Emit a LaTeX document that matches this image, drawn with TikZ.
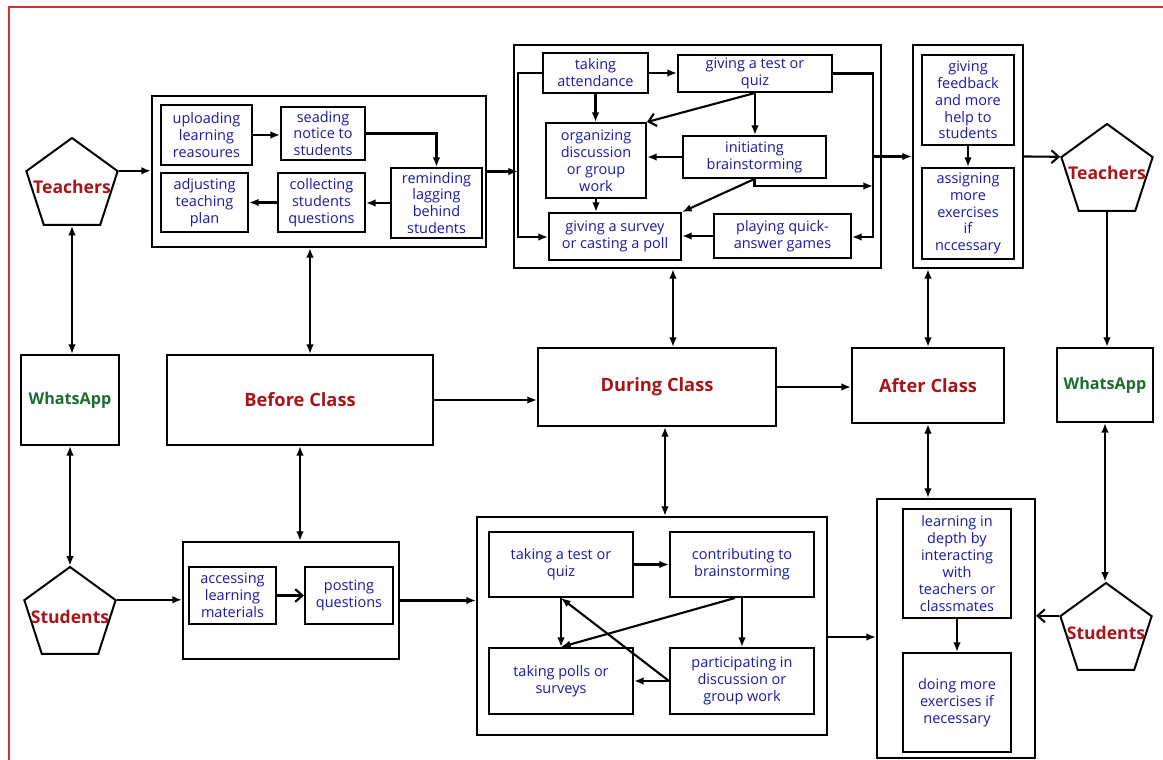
\documentclass[tikz,border=0pt]{standalone}
\usepackage{fontspec}
\setmainfont{Open Sans}
\usetikzlibrary{shapes.geometric,arrows.meta}
\definecolor{dred}{RGB}{170,20,25}
\definecolor{blu}{RGB}{25,25,165}
\definecolor{grn}{RGB}{25,110,45}
\definecolor{bord}{RGB}{200,55,55}
\begin{document}
\begin{tikzpicture}[x=0.025cm,y=-0.025cm,
        grp/.style={draw,line width=1.5pt,inner sep=0pt},
        act/.style={draw,line width=1.4pt,text=blu,align=center,inner sep=0.5pt,font=\fontsize{10.3}{12}\selectfont},
        phase/.style={draw,line width=1.4pt,text=dred,font=\fontsize{13}{15}\selectfont\bfseries},
        app/.style={draw,line width=1.4pt,text=grn,font=\fontsize{11.5}{13}\selectfont\bfseries},
        role/.style={regular polygon,regular polygon sides=5,draw,line width=1.4pt,minimum size=2.4cm,
                label={[text=dred,font=\fontsize{12.5}{14}\selectfont\bfseries,yshift=-1pt]center:#1}},
        arr/.style={line width=1.5pt,-{Latex[length=2.4mm,width=1.9mm]}},
        darr/.style={line width=1.5pt,{Latex[length=2.4mm,width=1.9mm]}-{Latex[length=2.4mm,width=1.9mm]}},
        oarr/.style={line width=1.5pt,-{Straight Barb[length=1.8mm,width=3.2mm]}}]
        \useasboundingbox (0,0) rectangle (1163,760);
        \draw[bord,line width=1.5pt] (9,760) -- (9,7) -- (1163,7);

        % roles and channels
        \node[role=Teachers] (T1) at (72,186) {};
        \node[role=Students] (S1) at (70,615) {};
        \node[role=Teachers] (T2) at (1107,172) {};
        \node[role=Students] (S2) at (1106,631) {};
        \node[app,minimum width=2.45cm,minimum height=2.25cm] (wl) at (70,400) {WhatsApp};
        \node[app,minimum width=2.4cm,minimum height=1.85cm] (wr) at (1105,385) {WhatsApp};

        % phases
        \node[phase,minimum width=6.65cm,minimum height=2.25cm] (bcl) at (300,400) {Before Class};
        \node[phase,minimum width=5.95cm,minimum height=1.95cm] (dcl) at (657,387) {During Class};
        \node[phase,minimum width=3.8cm,minimum height=1.875cm] (acl) at (928,385.5) {After Class};

        % before class, teachers
        \node[grp,minimum width=8.35cm,minimum height=3.775cm] (bgrp) at (319,171.5) {};
        \node[act,minimum width=2.275cm,minimum height=1.5cm] (upl) at (206.5,135) {uploading\\learning\\reasoures};
        \node[act,minimum width=2.1cm,minimum height=1.325cm] (sea) at (323,133.5) {seading\\notice to\\students};
        \node[act,minimum width=2.275cm,minimum height=1.75cm] (rem) at (436.5,203) {reminding\\lagging\\behind\\students};
        \node[act,minimum width=2.175cm,minimum height=1.475cm] (col) at (321.5,202.5) {collecting\\students\\questions};
        \node[act,minimum width=2.175cm,minimum height=1.475cm] (adj) at (204.5,202.5) {adjusting\\teaching\\plan};

        % before class, students
        \node[grp,minimum width=5.4cm,minimum height=2.925cm] (agrp) at (291,600.5) {};
        \node[act,minimum width=2.175cm,minimum height=1.425cm] (acc) at (232.5,595.5) {accessing\\learning\\materials};
        \node[act,minimum width=2.2cm,minimum height=1.425cm] (pos) at (349,595.5) {posting\\questions};

        % during class, teachers
        \node[grp,minimum width=9.175cm,minimum height=5.575cm] (dgrp) at (697.5,156.5) {};
        \node[act,minimum width=2.625cm,minimum height=1cm] (att) at (595.5,73) {taking\\attendance};
        \node[act,minimum width=3.85cm,minimum height=0.925cm] (tst) at (755,73.5) {giving a test or\\quiz};
        \node[act,minimum width=2.5cm,minimum height=1.875cm] (org) at (596,160.5) {organizing\\discussion\\or group\\work};
        \node[act,minimum width=3.575cm,minimum height=1.05cm] (ini) at (754.5,157) {initiating\\brainstorming};
        \node[act,minimum width=3.3cm,minimum height=1.175cm] (sur) at (615,236.5) {giving a survey\\or casting a poll};
        \node[act,minimum width=3.425cm,minimum height=1.1cm] (ply) at (782.5,236) {playing quick-\\answer games};
        \coordinate (lbt) at (518,73);
        \coordinate (lbb) at (518,237);
        \coordinate (rbt) at (873,73);
        \coordinate (rbb) at (873,237);

        % during class, students
        \node[grp,minimum width=8.75cm,minimum height=5.45cm] (mg) at (652,626) {};
        \node[act,minimum width=3.6cm,minimum height=1.625cm] (qz) at (561,564.5) {taking a test or\\quiz};
        \node[act,minimum width=3.6cm,minimum height=1.625cm] (cb) at (742,564.5) {contributing to\\brainstorming};
        \node[act,minimum width=3.6cm,minimum height=1.65cm] (pl) at (561,681) {taking polls or\\surveys};
        \node[act,minimum width=3.6cm,minimum height=1.65cm] (pt) at (742,681) {participating in\\discussion or\\group work};

        % after class
        \node[grp,minimum width=2.75cm,minimum height=5.575cm] (ag) at (968,156.5) {};
        \node[act,minimum width=2.3cm,minimum height=2.25cm] (fbk) at (968,100) {giving\\feedback\\and more\\help to\\students};
        \node[act,minimum width=2.3cm,minimum height=2.275cm] (asg) at (968,213.5) {assigning\\more\\exercises\\if\\nccessary};
        \node[grp,minimum width=3.95cm,minimum height=6.475cm] (ab) at (956,628.5) {};
        \node[act,minimum width=2.7cm,minimum height=2.725cm] (lid) at (957,563.5) {learning in\\depth by\\interacting\\with\\teachers or\\classmates};
        \node[act,minimum width=2.7cm,minimum height=2.475cm] (dme) at (957,702.5) {doing more\\exercises if\\necessary};

        % left side
        \draw[darr] (T1.south) -- (T1.south |- wl.north);
        \draw[darr] (wl.south) -- (wl.south |- S1.north);
        \draw[arr] (T1.corner 5) -- (T1.corner 5 -| bgrp.west);
        \draw[arr] (S1.corner 5) -- (S1.corner 5 -| agrp.west);
        \draw[arr] (upl.east) -- (upl.east -| sea.west);
        \draw[arr] (sea.east) -| (rem.north);
        \draw[arr] (rem.west) -- (rem.west -| col.east);
        \draw[arr] (col.west) -- (adj.east);
        \draw[oarr] (acc.east) -- (pos.west);
        \draw[darr] ([xshift=0.25cm]bcl.north) -- ([xshift=0.25cm]bcl.north |- bgrp.south);
        \draw[darr] (bcl.south) -- (bcl.south |- agrp.north);
        \draw[arr] (bcl.east) -- (bcl.east -| dcl.west);
        \draw[arr] (agrp.east) -- (agrp.east -| mg.west);

        % during class
        \draw[arr] (bgrp.east) -- (bgrp.east -| lbb);
        \draw[arr] (att.west) -| (lbb) -- (lbb -| sur.west);
        \draw[arr] (att.east) -- (att.east -| tst.west);
        \draw[arr] (att.south) -- (att.south |- org.north);
        \draw[oarr] (tst.south) -- (org.north east);
        \draw[arr] (tst.south) -- (tst.south |- ini.north);
        \draw[arr] (ini.west) -- (ini.west -| org.east);
        \draw[arr] (ini.south) -- (sur.north east);
        \draw[arr] (ini.south) |- (873,186);
        \draw[arr] (tst.east) -| (rbb) -- (rbb -| ply.east);
        \draw[arr] (org.south) -- (org.south |- sur.north);
        \draw[arr] (ply.west) -- (ply.west -| sur.east);
        \draw[arr] (dgrp.east -| rbt) -- (ag.west);
        \draw[darr] ([xshift=0.4cm]dcl.north) -- ([xshift=0.4cm]dcl.north |- dgrp.south);
        \draw[darr] ([xshift=0.2cm]dcl.south) -- ([xshift=0.2cm]dcl.south |- mg.north);
        \draw[arr] (dcl.east) -- (dcl.east -| acl.west);
        \draw[arr] (qz.east) -- (cb.west);
        \draw[arr] (qz.south) -- (pl.north);
        \draw[arr] (cb.south) -- (pt.north);
        \draw[arr] ([xshift=-0.175cm]cb.south) -- (pl.north);
        \draw[arr] (pt.west) -- (qz.south);
        \draw[arr] (pt.west) -- (pl.east);
        \draw[arr] ([yshift=-0.275cm]mg.east) -- ([yshift=-0.275cm]mg.east -| ab.west);

        % right side
        \draw[arr] (fbk.south) -- (asg.north);
        \draw[arr] (lid.south) -- (dme.north);
        \draw[darr] (ag.south -| acl.north) -- (acl.north);
        \draw[darr] (acl.south) -- (acl.south |- ab.north);
        \draw[oarr] (ag.east) -- (T2.corner 2);
        \draw[oarr] (S2.corner 2) -- (S2.corner 2 -| ab.east);
        \draw[arr] (T2.south) -- (T2.south |- wr.north);
        \draw[darr] (wr.south) -- (wr.south |- S2.north);
\end{tikzpicture}
\end{document}
